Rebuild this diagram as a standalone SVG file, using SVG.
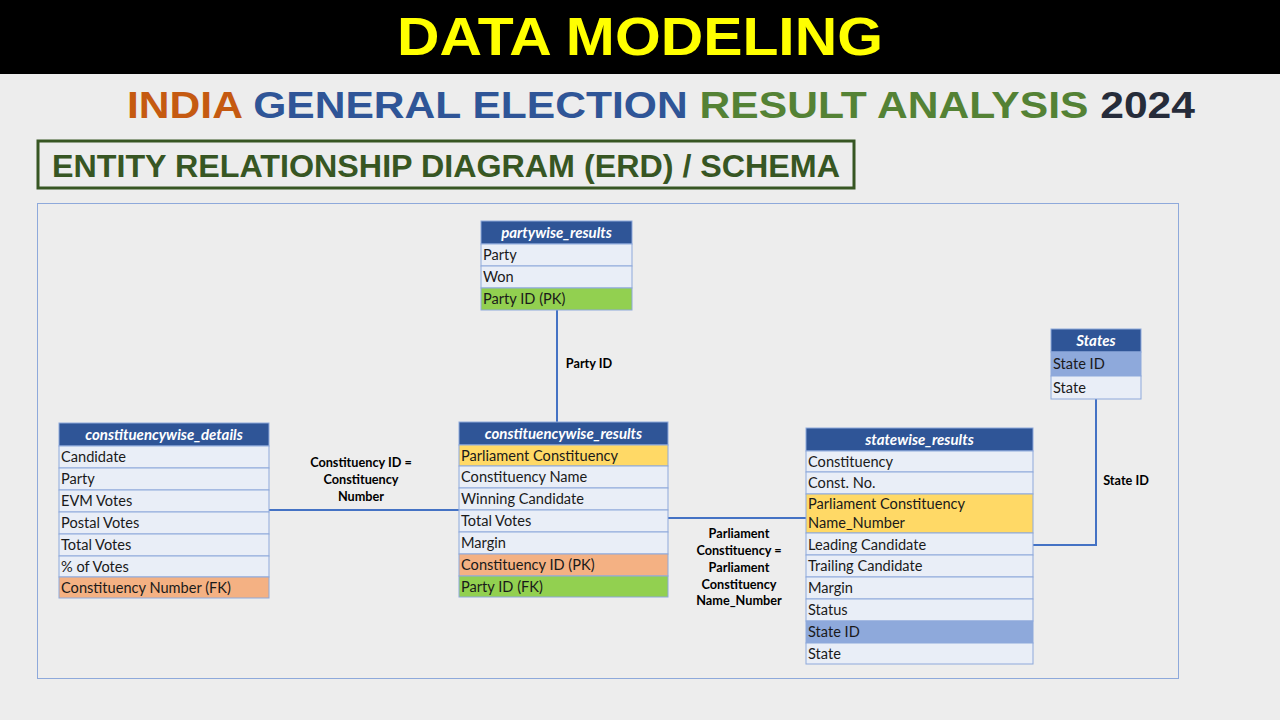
<svg xmlns="http://www.w3.org/2000/svg" width="1280" height="720" viewBox="0 0 1280 720">
<style>
.bg{fill:#EDEDED}
.hdr{fill:#2F5597;stroke:#8EA9DB;stroke-width:1}
.row{fill:#E9EEF7;stroke:#8EA9DB;stroke-width:1}
.green{fill:#92D050;stroke:#8EA9DB;stroke-width:1}
.orange{fill:#F4B183;stroke:#8EA9DB;stroke-width:1}
.yellow{fill:#FFD966;stroke:#8EA9DB;stroke-width:1}
.blue{fill:#8EA9DB;stroke:#8EA9DB;stroke-width:1}
.ht{font-family:Lato,"Liberation Sans",sans-serif;font-weight:bold;font-style:italic;font-size:15px;fill:#FFFFFF;text-anchor:middle}
.rt{font-family:Lato,"Liberation Sans",sans-serif;font-size:14.6px;fill:#1a1a1a}
.lbl{font-family:Lato,"Liberation Sans",sans-serif;font-weight:bold;font-size:12.7px;fill:#000;text-anchor:middle}
.conn{stroke:#4472C4;stroke-width:2;fill:none}
</style>
<rect class="bg" x="0" y="0" width="1280" height="720"/>
<rect x="0" y="0" width="1280" height="74" fill="#000"/>
<text x="640" y="55" font-family="'Liberation Sans',Arial,sans-serif" font-weight="bold" font-size="53" fill="#FFFF00" text-anchor="middle" textLength="486" lengthAdjust="spacingAndGlyphs">DATA MODELING</text>
<text x="127" y="118" font-family="'Liberation Sans',Arial,sans-serif" font-weight="bold" font-size="36" textLength="1068" lengthAdjust="spacingAndGlyphs"><tspan fill="#C55A11">INDIA</tspan> <tspan fill="#2F5597">GENERAL ELECTION</tspan> <tspan fill="#548235">RESULT ANALYSIS</tspan> <tspan fill="#262C3A">2024</tspan></text>
<rect x="38" y="141" width="816" height="47" fill="none" stroke="#375623" stroke-width="3"/>
<text x="52" y="177" font-family="'Liberation Sans',Arial,sans-serif" font-weight="bold" font-size="32" fill="#375623" textLength="788" lengthAdjust="spacingAndGlyphs">ENTITY RELATIONSHIP DIAGRAM (ERD) / SCHEMA</text>
<rect x="37.5" y="203.5" width="1141" height="475" fill="none" stroke="#8EA9DB" stroke-width="1"/>

<g id="connectors">
<line class="conn" x1="557" y1="310" x2="557" y2="422"/>
<line class="conn" x1="269" y1="510" x2="459" y2="510"/>
<line class="conn" x1="668" y1="518" x2="806" y2="518"/>
<polyline class="conn" points="1033,545 1096,545 1096,399"/>
<text class="lbl" x="589" y="368">Party ID</text>
<text class="lbl" x="361" y="467">Constituency ID =</text>
<text class="lbl" x="361" y="484">Constituency</text>
<text class="lbl" x="361" y="501">Number</text>
<text class="lbl" x="739" y="538">Parliament</text>
<text class="lbl" x="739" y="555">Constituency =</text>
<text class="lbl" x="739" y="572">Parliament</text>
<text class="lbl" x="739" y="589">Constituency</text>
<text class="lbl" x="739" y="605">Name_Number</text>
<text class="lbl" x="1126" y="485">State ID</text>
</g>

<g id="partywise_results">
<rect class="hdr" x="481" y="221" width="151" height="23"/>
<text class="ht" x="556.5" y="238">partywise_results</text>
<rect class="row" x="481" y="244" width="151" height="22"/>
<text class="rt" x="483" y="260">Party</text>
<rect class="row" x="481" y="266" width="151" height="22"/>
<text class="rt" x="483" y="282">Won</text>
<rect class="green" x="481" y="288" width="151" height="22"/>
<text class="rt" x="483" y="304">Party ID (PK)</text>
</g>

<g id="constituencywise_details">
<rect class="hdr" x="59" y="423" width="210" height="23"/>
<text class="ht" x="164" y="440">constituencywise_details</text>
<rect class="row" x="59" y="446" width="210" height="22"/>
<text class="rt" x="61" y="462">Candidate</text>
<rect class="row" x="59" y="468" width="210" height="22"/>
<text class="rt" x="61" y="484">Party</text>
<rect class="row" x="59" y="490" width="210" height="22"/>
<text class="rt" x="61" y="506">EVM Votes</text>
<rect class="row" x="59" y="512" width="210" height="22"/>
<text class="rt" x="61" y="528">Postal Votes</text>
<rect class="row" x="59" y="534" width="210" height="22"/>
<text class="rt" x="61" y="550">Total Votes</text>
<rect class="row" x="59" y="556" width="210" height="21"/>
<text class="rt" x="61" y="572">% of Votes</text>
<rect class="orange" x="59" y="577" width="210" height="21"/>
<text class="rt" x="61" y="593">Constituency Number (FK)</text>
</g>

<g id="constituencywise_results">
<rect class="hdr" x="459" y="422" width="209" height="23"/>
<text class="ht" x="563.5" y="439">constituencywise_results</text>
<rect class="yellow" x="459" y="445" width="209" height="21"/>
<text class="rt" x="461" y="461">Parliament Constituency</text>
<rect class="row" x="459" y="466" width="209" height="22"/>
<text class="rt" x="461" y="482">Constituency Name</text>
<rect class="row" x="459" y="488" width="209" height="22"/>
<text class="rt" x="461" y="504">Winning Candidate</text>
<rect class="row" x="459" y="510" width="209" height="22"/>
<text class="rt" x="461" y="526">Total Votes</text>
<rect class="row" x="459" y="532" width="209" height="22"/>
<text class="rt" x="461" y="548">Margin</text>
<rect class="orange" x="459" y="554" width="209" height="22"/>
<text class="rt" x="461" y="570">Constituency ID (PK)</text>
<rect class="green" x="459" y="576" width="209" height="21"/>
<text class="rt" x="461" y="592">Party ID (FK)</text>
</g>

<g id="statewise_results">
<rect class="hdr" x="806" y="428" width="227" height="23"/>
<text class="ht" x="919.5" y="445">statewise_results</text>
<rect class="row" x="806" y="451" width="227" height="21"/>
<text class="rt" x="808" y="467">Constituency</text>
<rect class="row" x="806" y="472" width="227" height="22"/>
<text class="rt" x="808" y="488">Const. No.</text>
<rect class="yellow" x="806" y="494" width="227" height="39"/>
<text class="rt" x="808" y="509">Parliament Constituency</text>
<text class="rt" x="808" y="528">Name_Number</text>
<rect class="row" x="806" y="533" width="227" height="22"/>
<text class="rt" x="808" y="550">Leading Candidate</text>
<rect class="row" x="806" y="555" width="227" height="22"/>
<text class="rt" x="808" y="571">Trailing Candidate</text>
<rect class="row" x="806" y="577" width="227" height="22"/>
<text class="rt" x="808" y="593">Margin</text>
<rect class="row" x="806" y="599" width="227" height="22"/>
<text class="rt" x="808" y="615">Status</text>
<rect class="blue" x="806" y="621" width="227" height="22"/>
<text class="rt" x="808" y="637">State ID</text>
<rect class="row" x="806" y="643" width="227" height="21"/>
<text class="rt" x="808" y="659">State</text>
</g>

<g id="States">
<rect class="hdr" x="1051" y="329" width="90" height="23"/>
<text class="ht" x="1096" y="346">States</text>
<rect class="blue" x="1051" y="352" width="90" height="24"/>
<text class="rt" x="1053" y="369">State ID</text>
<rect class="row" x="1051" y="376" width="90" height="23"/>
<text class="rt" x="1053" y="393">State</text>
</g>
</svg>
